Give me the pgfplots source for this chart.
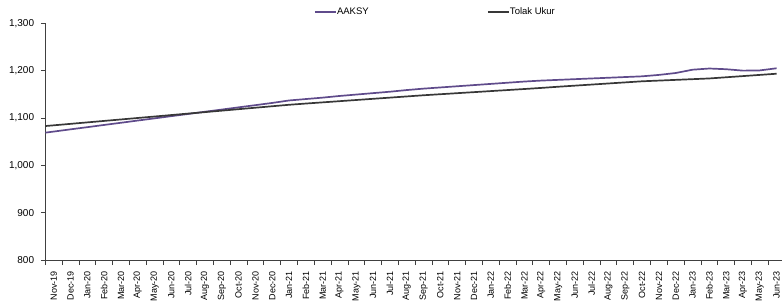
\documentclass[border=0pt]{standalone}
\usepackage{fontspec}
\setmainfont{Liberation Sans}
\usepackage{pgfplots}
\usepackage{pgfplotstable}
\pgfplotsset{compat=1.18}
\definecolor{aak}{HTML}{5F4B8B}
\definecolor{tol}{HTML}{383838}
\definecolor{axc}{HTML}{404040}
\pgfplotstableread{
x a t
-0.5 1069 1083
0 1071.3 1084.5
1 1076.0 1087.6
2 1080.6 1090.7
3 1085.3 1093.8
4 1089.9 1096.9
5 1094.6 1100.0
6 1099.2 1103.1
7 1103.9 1106.2
8 1108.5 1109.3
9 1113.2 1112.4
10 1117.8 1115.5
11 1122.5 1118.6
12 1127.1 1121.7
13 1131.8 1124.8
14 1137.0 1127.9
15 1140.0 1130.5
16 1143.0 1133.0
17 1146.5 1135.5
18 1149.5 1138.0
19 1152.5 1140.5
20 1155.5 1143.0
21 1159.0 1145.5
22 1162.0 1148.0
23 1164.5 1150.2
24 1167.0 1152.4
25 1169.5 1154.6
26 1172.0 1156.8
27 1174.5 1159.0
28 1177.0 1161.2
29 1179.0 1163.5
30 1180.5 1166.0
31 1182.0 1168.3
32 1183.5 1170.6
33 1185.0 1172.9
34 1186.5 1175.2
35 1188.0 1177.5
36 1191.0 1179.0
37 1195.0 1180.5
38 1202.0 1182.0
39 1204.5 1183.5
40 1203.0 1186.0
41 1200.0 1188.5
42 1200.5 1191.0
43 1205.0 1193.5
}\datatable
\begin{document}
\begin{tikzpicture}
\begin{axis}[
  at={(0pt,0pt)}, anchor=south west,
  width=739.7pt, height=236.7pt, scale only axis,
  xmin=-0.5, xmax=43.5, ymin=800, ymax=1300,
  axis x line*=bottom, axis y line*=left,
  axis line style={axc, line width=0.8pt, -},
  ytick={800,900,1000,1100,1200,1300},
  /pgf/number format/assume math mode=true,
  /pgf/number format/1000 sep={,},
  tick align=outside,
  major tick length=4.5pt,
  minor tick length=5pt,
  xtick={0,...,43},
  xticklabels={Nov-19,Dec-19,Jan-20,Feb-20,Mar-20,Apr-20,May-20,Jun-20,Jul-20,Aug-20,Sep-20,Oct-20,Nov-20,Dec-20,Jan-21,Feb-21,Mar-21,Apr-21,May-21,Jun-21,Jul-21,Aug-21,Sep-21,Oct-21,Nov-21,Dec-21,Jan-22,Feb-22,Mar-22,Apr-22,May-22,Jun-22,Jul-22,Aug-22,Sep-22,Oct-22,Nov-22,Dec-22,Jan-23,Feb-23,Mar-23,Apr-23,May-23,Jun-23},
  major x tick style={draw=none},
  minor xtick={-0.5,0.5,1.5,2.5,3.5,4.5,5.5,6.5,7.5,8.5,9.5,10.5,11.5,12.5,13.5,14.5,15.5,16.5,17.5,18.5,19.5,20.5,21.5,22.5,23.5,24.5,25.5,26.5,27.5,28.5,29.5,30.5,31.5,32.5,33.5,34.5,35.5,36.5,37.5,38.5,39.5,40.5,41.5,42.5,43.5},
  minor x tick style={axc, line width=0.8pt},
  major y tick style={axc, line width=0.8pt},
  xticklabel style={rotate=90, anchor=east, font=\fontsize{9}{10}\selectfont, inner sep=0pt, xshift=-6.5pt},
  yticklabel style={font=\fontsize{10}{12}\selectfont, inner sep=0pt, xshift=-6.5pt},
  legend style={at={(0.363,1.0465)}, anchor=west, draw=none, fill=none,
    font=\fontsize{9.5}{11}\selectfont, inner sep=0pt,
    nodes={inner sep=0.3pt},
    /tikz/every even column/.append style={column sep=118pt}},
  legend columns=2,
  legend cell align=left,
  legend image code/.code={\draw[#1] (0pt,0pt) -- (21pt,0pt);},
]
\addplot[aak, line width=1.7pt, line join=round] table[x=x,y=a]{\datatable};
\addlegendentry{AAKSY}
\addplot[tol, line width=1.7pt, line join=round] table[x=x,y=t]{\datatable};
\addlegendentry{Tolak Ukur}
\end{axis}
\pgfresetboundingbox
\path (-45.3pt,-40pt) rectangle (736.7pt,260pt);
\end{tikzpicture}
\end{document}
